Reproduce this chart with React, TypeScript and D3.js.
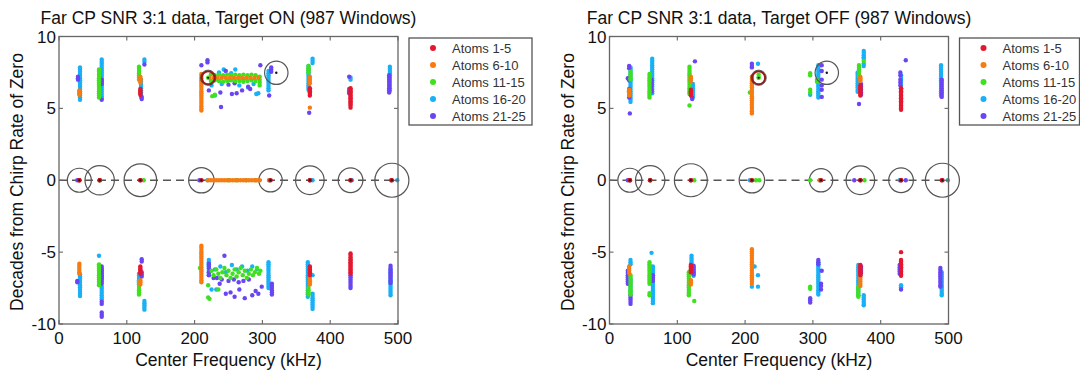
import React from 'react';
import * as d3 from 'd3';

type Col = number[]; // [centerFrequency, decade, decade, ...]

const GROUP_LABELS = ['Atoms 1-5', 'Atoms 6-10', 'Atoms 11-15', 'Atoms 16-20', 'Atoms 21-25'];
const GROUP_COLORS = ['#e5172f', '#f77b12', '#3fe01e', '#18b0f6', '#6a45f3'];
const FREQ_TICKS = [0, 100, 200, 300, 400, 500];
const DECADE_TICKS = [-10, -5, 0, 5, 10];

// ---------- Target ON ----------
const ON_G1: Col[] = [
  [120, 6.35, 6.25, 6.15, 6.05, 5.95],
  [370, 6.4, 6.3, 6.2, 6.1, 6.0, 5.9],
  [430, 6.4, 6.3, 6.2, 6.1, 6.0, 5.9, 5.8, 5.7, 5.6, 5.5, 5.4, 5.3, 5.2, 5.05],
  [30, 0], [60, 0], [120, 0], [370, 0], [430, 0], [490, 0],
  [120, -6.0, -6.1, -6.2, -6.3, -6.4, -6.5],
  [370, -6.0, -6.1, -6.2, -6.3, -6.4, -6.5, -6.6],
  [430, -5.1, -5.2, -5.35, -5.5, -5.6, -5.7, -5.8, -5.9, -6.0, -6.1, -6.2, -6.3, -6.4, -6.5],
];
const ON_G2: Col[] = [
  [30, 6.25, 6.15, 6.05, 5.95],
  [120, 7.2, 7.1, 7.0, 6.9, 6.8],
  [210, 7.4, 7.25, 7.1, 6.95, 6.8, 6.65, 6.5, 6.35, 6.2, 6.05, 5.9, 5.75, 5.6, 5.45, 5.3, 5.15, 5.0, 4.85],
  [222, 7.12], [228, 7.12], [234, 7.12], [240, 7.12], [246, 7.12], [252, 7.12], [258, 7.12],
  [264, 7.12], [270, 7.12], [276, 7.12], [282, 7.12], [288, 7.12], [294, 7.12],
  [370, 7.2, 7.05, 6.9, 6.75], [370, 5.05],
  [30, 0], [220, 0], [224, 0], [228, 0], [232, 0], [236, 0], [240, 0], [244, 0], [248, 0], [252, 0],
  [256, 0], [260, 0], [264, 0], [268, 0], [272, 0], [276, 0], [280, 0], [284, 0], [288, 0], [292, 0],
  [296, 0], [310, 0],
  [30, -5.8, -5.95, -6.1, -6.25, -6.4, -6.5],
  [120, -6.95, -7.1, -7.25],
  [210, -4.55, -4.7, -4.85, -5.0, -5.15, -5.3, -5.45, -5.6, -5.75, -5.9, -6.05, -6.2, -6.35, -6.5, -6.65, -6.8, -6.95, -7.1],
  [370, -6.65, -6.8, -6.95, -7.1, -7.25],
];
const ON_G3: Col[] = [
  [59, 7.7, 7.55, 7.4, 7.25, 7.1, 6.95, 6.8, 6.65, 6.5, 6.35, 6.2, 6.05, 5.9, 5.75],
  [118, 7.9, 7.75, 7.6, 7.45, 7.3, 7.15, 7.0],
  [224, 7.35, 6.9], [230, 7.3, 6.95], [236, 7.35, 6.9], [242, 7.3, 6.85], [248, 7.35, 6.9],
  [254, 7.3, 6.95], [260, 7.35, 6.9], [266, 7.3, 6.9], [272, 7.35, 6.85], [278, 7.3, 6.9],
  [284, 7.35, 6.95], [290, 7.3, 6.9], [296, 7.2, 7.0, 6.8, 6.6],
  [226, 5.85], [230, 5.95],
  [368, 7.95, 7.8, 7.65, 7.5],
  [60, 0], [125, 0], [250, 0], [262, 0], [276, 0], [290, 0],
  [59, -5.85, -6.0, -6.15, -6.3, -6.45, -6.6, -6.75, -6.9, -7.05, -7.2, -7.3],
  [118, -7.05, -7.2, -7.35, -7.5, -7.65, -7.8, -7.95],
  [208, -6.1],
  [225, -6.3], [228, -6.6], [232, -6.2], [235, -6.5], [238, -6.8], [241, -6.4], [244, -6.1],
  [247, -6.6], [250, -6.3], [253, -6.8], [256, -6.5], [259, -6.2], [262, -6.7], [265, -6.4],
  [268, -6.1], [271, -6.6], [274, -6.3], [277, -6.8], [280, -6.5], [283, -6.2], [286, -6.6],
  [289, -6.4], [292, -6.1], [295, -6.5], [297, -6.3],
  [220, -7.3, -8.15], [222, -8.25], [235, -7.6],
  [368, -7.5, -7.65, -7.8, -7.95],
];
const ON_G4: Col[] = [
  [31, 7.85, 7.7, 7.55, 7.4, 7.25, 7.1, 6.95, 6.8, 6.65, 6.5, 6.35, 6.2, 6.05, 5.9, 5.75, 5.6],
  [63, 8.4, 8.25, 8.1, 7.95, 7.8, 7.65, 7.5, 7.35, 7.2, 7.05, 6.9, 6.75, 6.6, 6.45, 6.3, 6.15, 6.0, 5.85, 5.7],
  [121, 7.0, 6.85, 6.7, 6.55, 6.4, 6.25, 6.1, 5.95, 5.8],
  [126, 8.4, 8.25],
  [243, 7.7], [260, 7.7], [230, 5.9], [250, 6.95], [291, 6.0], [294, 6.05], [287, 6.7],
  [240, 6.7], [225, 6.6], [272, 7.0], [266, 6.6], [279, 6.45], [236, 7.5], [254, 7.45],
  [309, 7.6, 7.45, 7.3, 7.15, 7.0, 6.85, 6.7, 6.55, 6.4, 6.25],
  [368, 7.95, 7.8, 7.65, 7.5, 7.35, 7.2, 7.05, 6.9, 6.75, 6.6, 6.45, 6.3],
  [374, 8.45, 8.3, 8.15],
  [430, 7.15, 7.0],
  [488, 7.9, 7.75, 7.6, 7.45, 7.3, 7.15, 7.0, 6.85, 6.7, 6.55, 6.4, 6.25],
  [219, 0], [310, 0], [374, 0], [432, 0], [499, 0],
  [31, -6.55, -6.7, -6.85, -7.0, -7.15, -7.3, -7.45, -7.6, -7.75, -7.9, -8.05],
  [59, -5.25],
  [63, -6.2, -6.35, -6.5, -6.65, -6.8, -7.4, -7.55, -7.7, -7.85, -8.0, -8.15, -8.3],
  [118, -6.5, -6.65, -6.8, -6.95, -7.1, -7.25],
  [126, -8.4, -8.55, -8.7, -8.85, -9.0],
  [221, -5.55, -5.7, -5.85, -6.0, -6.15, -6.3, -6.45, -6.6],
  [230, -6.2], [238, -6.0], [246, -6.4], [255, -5.9], [262, -6.2], [270, -6.0], [278, -6.3],
  [285, -6.0], [292, -6.2], [225, -7.6], [232, -7.6],
  [309, -5.7, -5.85, -6.0, -6.15, -6.3, -6.45, -6.6, -6.75, -6.9, -7.05, -7.2, -7.35, -7.5],
  [367, -5.7, -5.85, -6.0, -6.15, -6.3, -6.45, -6.6, -6.75, -6.9, -7.05, -7.2, -7.35, -7.5, -7.65, -7.8, -7.95, -8.1],
  [374, -6.6, -7.9, -8.05, -8.2, -8.35, -8.5, -8.65, -8.8, -8.95],
  [489, -6.2, -6.35, -6.5, -6.65, -6.8, -6.95, -7.1, -7.25, -7.4, -7.55, -7.7, -7.85, -8.0],
];
const ON_G5: Col[] = [
  [28, 7.2, 7.1, 7.0],
  [63, 7.0, 6.85, 6.7, 5.6],
  [122, 5.8, 5.65], [126, 8.05],
  [210, 8.0], [219, 8.35, 8.2], [221, 6.25], [239, 5.1], [255, 6.0], [262, 6.05], [270, 6.25],
  [282, 6.35], [250, 6.65], [259, 6.75], [279, 6.5], [238, 6.1], [297, 8.0], [246, 7.6],
  [313, 7.85, 7.7, 7.55], [310, 5.9],
  [369, 4.7],
  [428, 7.2, 6.35, 6.2, 6.05],
  [487, 7.3, 7.15, 7.0, 6.85, 6.7, 6.55, 6.4, 6.25, 6.1],
  [27, 0], [207, 0],
  [27, -7.0, -7.1],
  [63, -6.0, -6.15, -6.3, -6.45, -6.6, -6.75, -6.9, -7.05, -7.2, -8.45, -8.6, -9.2, -9.35, -9.5],
  [122, -5.5, -5.65, -6.4, -6.55, -6.7],
  [221, -5.8, -5.95, -6.1, -6.4, -6.6],
  [244, -5.25], [250, -7.0], [258, -6.9], [265, -7.1], [272, -7.0], [280, -6.9], [240, -6.9],
  [233, -6.8], [246, -7.9], [253, -7.8], [259, -8.1], [266, -7.6], [274, -8.2], [285, -8.0],
  [290, -7.7], [294, -7.9], [299, -7.4], [237, -7.2], [228, -6.8],
  [314, -7.2, -7.35, -7.5, -7.65, -7.8, -7.95],
  [430, -6.6, -6.75, -6.9, -7.05, -7.2, -7.35, -7.5],
  [489, -5.95, -6.1, -6.25, -6.4, -6.55, -6.7, -6.85, -7.0, -7.15],
];

// ---------- Target OFF ----------
const OFF_G1: Col[] = [
  [120, 6.3, 6.2, 6.1, 6.0, 5.9],
  [370, 6.6, 6.5, 6.4, 6.3, 6.2, 6.1, 6.0, 5.9],
  [430, 6.4, 6.3, 6.2, 6.1, 6.0, 5.9, 5.8, 5.7, 5.6, 5.5, 5.4, 5.3, 5.2, 5.1, 5.0, 4.9],
  [30, 0], [60, 0], [120, 0], [370, 0], [430, 0], [490, 0],
  [120, -5.9, -6.0, -6.1, -6.2, -6.3, -6.4],
  [370, -5.9, -6.0, -6.1, -6.2, -6.3, -6.4, -6.5, -6.6],
  [430, -5.0, -5.55, -5.65, -5.75, -5.85, -5.95, -6.05, -6.15, -6.25, -6.35, -6.45, -6.55, -6.65],
];
const OFF_G2: Col[] = [
  [29, 6.3, 6.2, 6.1, 6.0, 5.9],
  [120, 7.2, 7.1, 7.0, 6.9],
  [210, 7.2, 7.05, 6.9, 6.75, 6.6, 6.45, 6.3, 6.15, 6.0, 5.85, 5.7, 5.55, 5.4, 5.25, 5.1, 4.95, 4.8, 4.65],
  [370, 7.2, 7.1, 7.0, 6.9],
  [30, 0], [210, 0], [310, 0],
  [29, -6.0, -6.15, -6.3, -6.45],
  [120, -6.95, -7.1, -7.25],
  [210, -4.8, -4.95, -5.1, -5.25, -5.4, -5.55, -5.7, -5.85, -6.0, -6.15, -6.3, -6.45, -6.6, -6.75, -6.9, -7.05, -7.2],
  [370, -6.6, -6.75, -6.9, -7.05, -7.2, -7.35],
];
const OFF_G3: Col[] = [
  [31, 7.55, 7.4, 7.25, 7.1, 7.0],
  [59, 7.4, 7.25, 7.1, 6.95, 6.8, 6.65, 6.5, 6.35, 6.2, 6.05, 5.9, 5.75],
  [118, 7.9, 7.75, 7.6, 7.45, 7.3, 7.15, 7.0, 6.85, 6.7, 6.55, 6.4, 6.25, 6.1, 6.0],
  [118, 5.2], [207, 6.1], [220, 7.35, 7.15],
  [296, 7.45, 7.3, 6.3, 6.1], [306, 7.0, 6.85],
  [368, 8.0, 7.85, 7.7, 7.55, 7.4, 7.25], [375, 8.3],
  [60, 0], [125, 0], [216, 0], [221, 0], [296, 0], [376, 0],
  [31, -6.6, -6.75, -6.9, -7.05, -7.2, -7.35, -7.5, -7.65, -7.8, -7.95],
  [59, -5.7, -5.85, -6.0, -6.15, -6.3, -6.45, -6.6, -6.75, -6.9, -7.05, -7.2, -7.85, -8.0],
  [117, -6.4, -6.55, -6.7, -6.85, -7.0, -7.15, -7.3, -7.45, -7.6, -7.75, -7.9, -8.0],
  [125, -8.4],
  [296, -7.4, -7.55],
  [367, -7.4, -7.55, -7.7, -7.85, -8.0, -8.1],
];
const OFF_G4: Col[] = [
  [31, 7.85, 7.7, 7.55, 7.4, 7.25, 7.1, 6.95, 6.8, 6.65, 6.5, 6.35, 6.2, 6.05, 5.9, 5.75, 5.6, 5.45],
  [63, 8.45, 8.3, 8.15, 8.0, 7.85, 7.7, 7.55, 7.4, 7.25, 7.1, 6.95, 6.8, 6.65, 6.5, 6.35, 6.2, 6.05],
  [123, 6.7, 6.55, 6.4, 6.25, 6.1, 5.95, 5.8],
  [219, 8.1], [296, 5.95],
  [308, 8.0, 7.85, 7.7, 7.55, 7.4, 7.25, 7.1, 6.95, 6.8, 6.65, 6.5, 6.35, 6.2, 6.05, 5.9, 5.75],
  [375, 9.0, 8.85, 8.7, 8.55, 8.45, 8.1, 7.95],
  [366, 7.5, 7.35, 7.2, 7.05, 6.9, 6.75, 6.6, 6.45, 6.3, 6.15],
  [430, 7.3, 7.15, 7.0, 6.85, 6.7, 6.55, 6.4],
  [489, 8.0, 7.85, 7.7, 7.55, 7.4, 7.25, 7.1, 6.95, 6.8, 6.65, 6.5, 6.35, 6.2, 6.05, 5.9],
  [207, 0], [310, 0], [428, 0], [499, 0],
  [31, -5.55, -5.7, -5.85, -6.9, -7.05, -7.2, -7.35, -7.5, -7.65, -7.8],
  [62, -5.05],
  [64, -6.0, -6.15, -6.3, -6.45, -6.6, -6.75, -6.9, -7.05, -7.2, -7.35, -7.5, -7.65, -7.8, -7.95, -8.1, -8.25, -8.4, -8.55],
  [121, -5.25, -5.4, -5.55, -5.7],
  [124, -6.05, -6.2, -6.35, -6.5, -6.65],
  [214, -6.0], [219, -6.6, -7.4], [210, -7.4],
  [308, -5.7, -5.85, -6.0, -6.15, -6.3, -6.45, -6.6, -6.75, -6.9, -7.05, -7.2, -7.35, -7.5, -7.65, -7.8, -7.95],
  [367, -5.9, -6.05, -6.2, -6.35, -6.5, -6.65, -6.8, -6.95, -7.1, -7.25, -7.4, -7.55, -7.7, -7.85, -8.0],
  [375, -8.0, -8.15, -8.3, -8.45, -8.6, -8.7],
  [430, -7.3, -7.45],
  [490, -6.4, -6.55, -6.7, -6.85, -7.0, -7.15, -7.3, -7.45, -7.6, -7.75, -7.9, -8.0],
];
const OFF_G5: Col[] = [
  [29, 7.95, 7.8, 7.1, 6.95, 6.35, 6.2, 5.75], [27, 7.1], [30, 4.65],
  [62, 7.0, 6.85, 6.7, 6.55, 6.3, 6.15],
  [126, 8.27], [122, 5.75, 5.65],
  [210, 8.1, 7.95, 7.85],
  [313, 8.0, 7.6, 7.0, 6.6, 6.3, 5.8],
  [371, 6.7, 6.5, 6.3, 6.1, 5.95], [368, 5.3],
  [437, 8.35], [429, 7.5, 7.3, 7.0, 6.8, 6.6],
  [490, 7.0, 6.85, 6.7, 6.55, 6.4, 6.25, 6.1, 5.95, 5.8],
  [27, 0], [361, 0], [437, 0],
  [27, -6.3, -6.45, -6.6, -6.75, -6.9, -7.05, -7.2],
  [31, -8.0, -8.15, -8.3, -8.45, -8.6],
  [64, -6.6, -6.8, -7.0],
  [124, -5.95, -6.1, -6.25, -6.4, -6.55],
  [296, -8.2, -8.35, -8.5],
  [308, -5.55, -5.7, -5.85],
  [312, -7.2, -7.35, -7.6], [313, -6.3],
  [371, -6.0, -6.15, -6.3, -6.45],
  [428, -5.9, -6.05, -6.2, -6.35, -6.5], [430, -7.6],
  [488, -6.1, -6.25, -6.4, -6.55, -6.7, -6.85, -7.0, -7.15, -7.3, -7.4],
];

// circles (weights mapped through a sqrt scale)
const ZERO_CIRCLE_FREQS = [30, 60, 120, 210, 312, 370, 430, 491];
const ON_ZERO_CIRCLE_WEIGHTS = [144, 217, 266, 162, 137, 205, 152, 290];
const OFF_ZERO_CIRCLE_WEIGHTS = [144, 217, 273, 162, 137, 205, 152, 290];
const GRAY_CIRCLE = [320.5, 7.48, 137];
const RED_CIRCLE = [220, 7.13, 42];

const FONT = '"Liberation Sans", Arial, Helvetica, sans-serif';

function Panel({ left, title, groups, weights }: { left: number; title: string; groups: Col[][]; weights: number[] }) {
  const width = 339;
  const top = 36.5;
  const bottom = 324;
  const x = d3.scaleLinear().domain([0, 500]).range([left, left + width]);
  const y = d3.scaleLinear().domain([-10, 10]).range([bottom, top]);
  const rScale = d3.scaleSqrt().domain([0, 300]).range([0, 17.3]);
  const axisColor = '#666';
  const drawOrder = [3, 4, 2, 1, 0];
  const legendX = left + width + 11;
  const legendW = left > 500 ? 120 : 123;

  return (
    <g>
      <text x={left + width / 2} y={24} textAnchor="middle" fontSize={17.5} fontFamily={FONT} fill="#111">
        {title}
      </text>
      <rect x={left} y={top} width={width} height={bottom - top} fill="#fff" stroke="none" />
      {/* zero dashed line */}
      <line x1={x(0)} x2={x(500)} y1={y(0)} y2={y(0)} stroke="#555" strokeWidth={1.3} strokeDasharray="8,5" />
      {/* zero circles */}
      {ZERO_CIRCLE_FREQS.map((f, i) => (
        <circle key={'zc' + i} cx={x(f)} cy={y(0)} r={rScale(weights[i])} fill="none" stroke="#555" strokeWidth={1.2} />
      ))}
      {/* scatter points */}
      {drawOrder.map((gi) =>
        groups[gi].flatMap((col, ci) =>
          col.slice(1).map((v, vi) => (
            <circle key={`p${gi}-${ci}-${vi}`} cx={x(col[0])} cy={y(v)} r={2.2} fill={GROUP_COLORS[gi]} />
          ))
        )
      )}
      {/* zero-centre markers */}
      {ZERO_CIRCLE_FREQS.map((f, i) => (
        <g key={'zm' + i}>
          <circle cx={x(f)} cy={y(0)} r={2.3} fill="#c0111f" />
          <circle cx={x(f)} cy={y(0)} r={1} fill="#111" />
        </g>
      ))}
      {/* upper circles */}
      <circle cx={x(GRAY_CIRCLE[0])} cy={y(GRAY_CIRCLE[1])} r={rScale(GRAY_CIRCLE[2])} fill="none" stroke="#555" strokeWidth={1.2} />
      <circle cx={x(GRAY_CIRCLE[0])} cy={y(GRAY_CIRCLE[1])} r={1.2} fill="#111" />
      <circle cx={x(RED_CIRCLE[0])} cy={y(RED_CIRCLE[1])} r={rScale(RED_CIRCLE[2])} fill="none" stroke="#9a1a1a" strokeWidth={2} />
      <circle cx={x(RED_CIRCLE[0])} cy={y(RED_CIRCLE[1])} r={rScale(RED_CIRCLE[2]) + 1.2} fill="none" stroke="#333" strokeWidth={0.7} />
      <circle cx={x(RED_CIRCLE[0])} cy={y(RED_CIRCLE[1])} r={2.2} fill={GROUP_COLORS[2]} />
      <circle cx={x(RED_CIRCLE[0])} cy={y(RED_CIRCLE[1])} r={1.1} fill="#111" />
      {/* axes box */}
      <rect x={left} y={top} width={width} height={bottom - top} fill="none" stroke={axisColor} strokeWidth={1.3} />
      {FREQ_TICKS.map((t) => (
        <g key={'xt' + t}>
          <line x1={x(t)} x2={x(t)} y1={bottom} y2={bottom - 4} stroke={axisColor} strokeWidth={1.1} />
          <line x1={x(t)} x2={x(t)} y1={top} y2={top + 4} stroke={axisColor} strokeWidth={1.1} />
          <text x={x(t)} y={344} textAnchor="middle" fontSize={17} fontFamily={FONT} fill="#111">
            {t}
          </text>
        </g>
      ))}
      {DECADE_TICKS.map((t) => (
        <g key={'yt' + t}>
          <line x1={left} x2={left + 4} y1={y(t)} y2={y(t)} stroke={axisColor} strokeWidth={1.1} />
          <line x1={left + width} x2={left + width - 4} y1={y(t)} y2={y(t)} stroke={axisColor} strokeWidth={1.1} />
          <text x={left - 3} y={y(t)} dy="0.36em" textAnchor="end" fontSize={17} fontFamily={FONT} fill="#111">
            {t}
          </text>
        </g>
      ))}
      <text x={left + width / 2} y={366} textAnchor="middle" fontSize={17.5} fontFamily={FONT} fill="#111">
        Center Frequency (kHz)
      </text>
      <text
        transform={`translate(${left - 36},${182}) rotate(-90)`}
        textAnchor="middle"
        fontSize={17.5}
        fontFamily={FONT}
        fill="#111"
      >
        Decades from Chirp Rate of Zero
      </text>
      {/* legend */}
      <rect x={legendX} y={38} width={legendW} height={87} fill="#fff" stroke="#555" strokeWidth={1.3} />
      {GROUP_LABELS.map((lab, i) => (
        <g key={'lg' + i}>
          <circle cx={legendX + 24} cy={48 + i * 17} r={3} fill={GROUP_COLORS[i]} />
          <text x={legendX + 43} y={48 + i * 17} dy="0.36em" fontSize={13} fontFamily={FONT} fill="#333">
            {lab}
          </text>
        </g>
      ))}
    </g>
  );
}

export default function App() {
  return (
    <svg
      width={1080}
      height={371}
      viewBox="0 0 1080 371"
      style={{ position: 'absolute', left: 0, top: 0, background: '#fff' }}
    >
      <rect width={1080} height={371} fill="#fff" />
      <Panel
        left={59}
        title="Far CP SNR 3:1 data, Target ON (987 Windows)"
        groups={[ON_G1, ON_G2, ON_G3, ON_G4, ON_G5]}
        weights={ON_ZERO_CIRCLE_WEIGHTS}
      />
      <Panel
        left={609.5}
        title="Far CP SNR 3:1 data, Target OFF (987 Windows)"
        groups={[OFF_G1, OFF_G2, OFF_G3, OFF_G4, OFF_G5]}
        weights={OFF_ZERO_CIRCLE_WEIGHTS}
      />
    </svg>
  );
}
